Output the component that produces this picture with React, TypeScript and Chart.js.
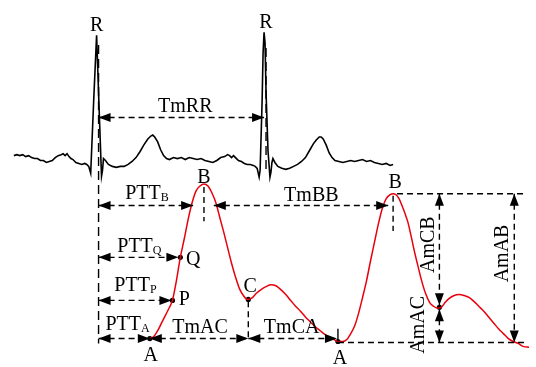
import React, { useEffect, useRef } from 'react';
import { Chart, registerables } from 'chart.js';
Chart.register(...registerables);

const FONT = '"Liberation Serif", "Times New Roman", serif';

// ECG trace (time units, amplitude units; amplitude axis points downward)
const ecgTime = [10,13,16,19,22,25,28,31,34,37,40,43,46,49,52,55,58,60,62,64,66,68,70,73,76,79,82,84,86,88,91,94,97,99,100,101,103,106,110,114,118,122,126,130,134,138,142,146,149,151,153,156,159,162,165,168,172,176,180,184,188,192,196,200,204,208,212,216,220,224,227,229,231,233,235,238,241,244,247,250,253,255,257,259,260,262,263,264,265,266,268,270,271,272,273,275,278,282,286,290,294,298,302,306,310,314,317,320,322,324,327,330,333,336,340,344,348,352,356,360,364,368,372,376,380,384,388,392,395];
const ecgAmp = [155,154,155,154,156,155,157,158,158,160,160,162,161,160,157,155,154,153,155,153,156,158,159,162,163,164,163,164,166,173,100,32,120,176,170,158,160,164,166,167,166,166,164,161,157,151,144,138,135,134,136,141,149,155,158,159,157,158,157,159,157,158,159,158,160,161,162,160,157,156,154,155,157,155,157,160,161,163,164,164,165,166,168,177,170,100,50,29,40,90,150,177,172,162,158,162,166,168,169,168,166,164,161,157,150,143,139,136,136,138,144,152,157,160,161,162,161,160,161,160,159,161,160,162,163,164,163,165,164];

// PPG trace
const ppgTime = [148,152,156,160,164,168,171,175,179,183,187,191,195,199,203,207,211,215,219,223,227,231,235,239,243,247,251,256,261,266,271,276,281,286,291,296,301,306,311,316,321,326,331,335,339,344,348,352,356,360,364,368,372,376,380,384,388,392,395,398,401,404,407,410,413,416,420,424,428,432,436,440,444,448,452,457,462,467,472,477,482,487,492,497,502,507,512,517,522,527,533];
const ppgAmp = [342,340,334,326,318,310,303,283,259,240,220,203,191,186,184,186,193,203,218,233,249,265,279,291,298,302,301,296,292,289,287,288,292,297,303,309,314,320,325,330,334,338,341,343,345,345,343,337,329,316,300,283,263,244,225,209,199,195,194,195,199,206,214,223,236,250,267,283,296,305,309,311,310,305,301,298,297,298,300,304,309,314,320,326,332,337,342,345,347,350,351];

// Fiducial points of the PPG: A1, P, Q, B1, C1, A2, B2, C2
const fidName = ['A','P','Q','B','C','A','B','C'];
const fidTime = [148,171,179,203,248,339,395,442];
const fidAmp = [342,303,259,184,302,345,194,310];
const dotIndex = [0,1,2,4,5,7];

// ECG R peaks
const rPeakTime = [94,266];
const rPeakAmp = [32,29];
const rMarkTime = [96,266];

// Measurement levels
const rrLevel = 116;
const bLevel = 206;
const baseLevel = 346;
const rightEnd = 528;

const annotPlugin = {
  id: 'annot',
  afterDatasetsDraw(chart: any) {
    const ctx = chart.ctx as CanvasRenderingContext2D;
    const xs = chart.scales.x, ys = chart.scales.y;
    const X = (v: number) => xs.getPixelForValue(v);
    const Y = (v: number) => ys.getPixelForValue(v);
    ctx.save();
    ctx.strokeStyle = '#000';
    ctx.fillStyle = '#000';
    ctx.lineWidth = 1.4;
    const dash = (x1: number, y1: number, x2: number, y2: number, pat = [6, 4]) => {
      ctx.setLineDash(pat);
      ctx.beginPath();
      ctx.moveTo(X(x1), Y(y1));
      ctx.lineTo(X(x2), Y(y2));
      ctx.stroke();
      ctx.setLineDash([]);
    };
    const head = (x: number, y: number, dir: string) => {
      const L = 12, W = 4.5;
      const px = X(x), py = Y(y);
      ctx.beginPath();
      ctx.moveTo(px, py);
      if (dir === 'l') { ctx.lineTo(px + L, py - W); ctx.lineTo(px + L, py + W); }
      if (dir === 'r') { ctx.lineTo(px - L, py - W); ctx.lineTo(px - L, py + W); }
      if (dir === 'u') { ctx.lineTo(px - W, py + L); ctx.lineTo(px + W, py + L); }
      if (dir === 'd') { ctx.lineTo(px - W, py - L); ctx.lineTo(px + W, py - L); }
      ctx.closePath();
      ctx.fill();
    };
    const dimH = (x1: number, x2: number, y: number) => { dash(x1, y, x2, y); head(x1, y, 'l'); head(x2, y, 'r'); };
    const dimV = (x: number, y1: number, y2: number) => { dash(x, y1, x, y2); head(x, y1, 'u'); head(x, y2, 'd'); };
    const text = (s: string, x: number, y: number) => {
      ctx.font = `20px ${FONT}`;
      ctx.textAlign = 'center';
      ctx.textBaseline = 'alphabetic';
      ctx.fillText(s, X(x), Y(y) + 6.6);
    };
    const subText = (main: string, sub: string, x: number, y: number) => {
      ctx.font = `20px ${FONT}`;
      ctx.textAlign = 'left';
      ctx.textBaseline = 'alphabetic';
      const w = ctx.measureText(main).width;
      ctx.fillText(main, X(x), Y(y) + 6.6);
      ctx.font = `12px ${FONT}`;
      ctx.fillText(sub, X(x) + w, Y(y) + 8.6);
    };
    const vText = (s: string, x: number, y: number) => {
      ctx.save();
      ctx.translate(X(x), Y(y));
      ctx.rotate(-Math.PI / 2);
      ctx.font = `20px ${FONT}`;
      ctx.textAlign = 'center';
      ctx.textBaseline = 'alphabetic';
      ctx.fillText(s, 0, 6.6);
      ctx.restore();
    };

    const [a1, p, q, b1, c1, a2, b2, c2] = fidTime.map((t, i) => ({ t, v: fidAmp[i] }));

    // R markers
    rPeakTime.forEach((t, i) => text('R', t, rPeakAmp[i] - 11));
    dash(rMarkTime[0], 42, rMarkTime[0], baseLevel + 1, [9, 5]);
    dash(rMarkTime[1], 45, rMarkTime[1], 172, [9, 5]);
    dimH(rMarkTime[0], rMarkTime[1] - 2, rrLevel);
    text('TmRR', 184, 104);

    // PTT_B and TmBB
    dimH(rMarkTime[0], 192, bLevel);
    dimH(213, 390, bLevel);
    dash(b1.t, b1.v + 3, b1.t, b1.v + 38);
    dash(b2.t, b2.v + 2, b2.t, b2.v + 38);
    text(fidName[3], b1.t, b1.v - 8);
    text(fidName[6], b2.t + 2, b2.v - 13);
    subText('PTT', 'B', 123, 193);
    text('TmBB', 312, 195);

    // PTT_Q, PTT_P, PTT_A
    dimH(rMarkTime[0], q.t - 2, q.v);
    subText('PTT', 'Q', 115, 247);
    text(fidName[2], q.t + 13, q.v + 1);
    dimH(rMarkTime[0], p.t - 1, p.v);
    subText('PTT', 'P', 112, 287);
    text(fidName[1], p.t + 12, p.v - 2);
    dimH(rMarkTime[0], a1.t, a1.v);
    subText('PTT', 'A', 103, 327);
    text(fidName[0], a1.t + 1, a1.v + 16);

    // TmAC, TmCA
    dimH(a1.t, c1.t, a1.v);
    text('TmAC', 199, 330);
    dash(c1.t, c1.v + 2, c1.t, a1.v);
    text(fidName[4], c1.t + 2, c1.v - 14);
    dimH(c1.t, a2.t - 1, a1.v);
    text('TmCA', 292, 330);

    // A2 tick and baselines
    ctx.beginPath();
    ctx.moveTo(X(a2.t), Y(a2.v - 13));
    ctx.lineTo(X(a2.t), Y(a2.v));
    ctx.stroke();
    text(fidName[5], a2.t + 2, a2.v + 16);
    dash(a2.t, baseLevel, rightEnd, baseLevel);
    dash(b2.t + 4, b2.v, rightEnd, b2.v);

    // Amplitudes
    dimV(518, b2.v, baseLevel);
    vText('AmAB', 505, 255);
    dimV(c2.t, b2.v, c2.v - 2);
    vText('AmCB', 430, 246);
    dimV(c2.t, c2.v + 2, baseLevel);
    vText('AmAC', 420, 328);

    ctx.restore();
  },
};

export default function App() {
  const ref = useRef<HTMLCanvasElement>(null);
  useEffect(() => {
    if (!ref.current) return;
    const ecg = ecgTime.map((t, i) => ({ x: t, y: ecgAmp[i] }));
    const ppg = ppgTime.map((t, i) => ({ x: t, y: ppgAmp[i] }));
    const dots = dotIndex.map((i) => ({ x: fidTime[i], y: fidAmp[i] }));
    const chart = new Chart(ref.current, {
      type: 'line',
      data: {
        datasets: [
          { data: ecg, borderColor: '#000', borderWidth: 1.6, pointRadius: 0, tension: 0, clip: false } as any,
          { data: ppg, borderColor: '#e8000b', borderWidth: 1.5, pointRadius: 0, cubicInterpolationMode: 'monotone', clip: false } as any,
          { data: dots, showLine: false, pointRadius: 2.6, pointBackgroundColor: '#000', pointBorderWidth: 0, clip: false } as any,
        ],
      },
      options: {
        responsive: false,
        animation: false,
        events: [],
        layout: { padding: 0 },
        scales: {
          x: { type: 'linear', min: 0, max: 536, display: false },
          y: { type: 'linear', min: 0, max: 367, reverse: true, display: false },
        },
        plugins: { legend: { display: false }, tooltip: { enabled: false } },
      },
      plugins: [annotPlugin],
    });
    return () => chart.destroy();
  }, []);
  return (
    <div style={{ position: 'fixed', left: 0, top: 0, width: 536, height: 367, background: '#fff' }}>
      <canvas ref={ref} width={536} height={367} />
    </div>
  );
}
